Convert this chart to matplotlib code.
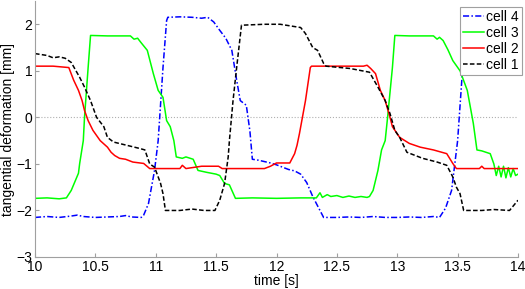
import numpy as np
import matplotlib
matplotlib.use("Agg")
import matplotlib.pyplot as plt

plt.rcParams['font.family'] = ['Liberation Sans', 'DejaVu Sans']

# cell 4 (blue, dash-dot)
t4 = [10.0, 10.1, 10.2, 10.3, 10.35, 10.4, 10.5, 10.6, 10.7, 10.75, 10.8, 10.88, 10.9,
      10.94, 10.99, 11.02, 11.06, 11.09, 11.1, 11.2, 11.3, 11.38, 11.43, 11.48, 11.53,
      11.58, 11.63, 11.67, 11.7, 11.75, 11.78, 11.8, 11.85, 11.9, 11.95, 12.0, 12.05,
      12.1, 12.15, 12.2, 12.25, 12.3, 12.35, 12.39, 12.5, 12.6, 12.7, 12.8, 12.9, 13.0,
      13.1, 13.2, 13.3, 13.35, 13.4, 13.45, 13.5, 13.54, 13.58, 13.6, 13.7, 13.8, 13.9,
      13.96, 13.98, 14.0]
v4 = [-2.15, -2.13, -2.15, -2.12, -2.1, -2.13, -2.15, -2.14, -2.13, -2.11, -2.14, -2.15, -2.1,
      -1.85, -1.14, -0.5, 1.07, 2.08, 2.15, 2.16, 2.15, 2.13, 2.15, 2.05, 1.87,
      1.7, 1.44, 0.8, 0.36, 0.26, -0.3, -0.9, -0.92, -0.95, -0.98, -1.02, -1.07,
      -1.12, -1.15, -1.22, -1.4, -1.7, -1.95, -2.15, -2.15, -2.14, -2.15, -2.13, -2.15, -2.15,
      -2.14, -2.15, -2.13, -2.15, -1.95, -1.57, -0.5, 1.0, 1.9, 2.1, 2.15, 2.15, 2.15,
      2.1, 2.0, 1.85]

# cell 3 (green, solid)
t3 = [10.0, 10.1, 10.2, 10.26, 10.3, 10.36, 10.37, 10.4, 10.41, 10.44, 10.46, 10.6, 10.79,
      10.82, 10.85, 10.88, 10.93, 10.98, 11.02, 11.06, 11.09, 11.12, 11.15, 11.17, 11.22,
      11.25, 11.31, 11.35, 11.42, 11.5, 11.53, 11.57, 11.61, 11.66, 11.8, 12.0, 12.2,
      12.33, 12.36, 12.38, 12.42, 12.45, 12.5, 12.55, 12.6, 12.65, 12.7, 12.75, 12.77,
      12.8, 12.84, 12.87, 12.9, 12.92, 12.96, 12.98, 13.1, 13.3, 13.33, 13.35, 13.38,
      13.42, 13.46, 13.52, 13.58, 13.63, 13.66, 13.7, 13.77, 13.8, 13.82, 13.84, 13.86,
      13.88, 13.9, 13.92, 13.94, 13.96, 13.98, 14.0]
v3 = [-1.74, -1.73, -1.75, -1.73, -1.57, -1.2, -0.99, -0.5, 0.0, 1.07, 1.76, 1.75, 1.75,
      1.68, 1.7, 1.6, 1.44, 0.94, 0.58, 0.43, -0.07, -0.2, -0.5, -0.85, -0.88,
      -0.85, -0.9, -1.14, -1.18, -1.22, -1.25, -1.42, -1.45, -1.74, -1.73, -1.74, -1.73,
      -1.73, -1.62, -1.72, -1.66, -1.7, -1.68, -1.72, -1.69, -1.72, -1.7, -1.72, -1.7,
      -1.57, -1.14, -0.7, -0.5, 0.0, 1.07, 1.76, 1.75, 1.75, 1.68, 1.72, 1.65,
      1.45, 1.22, 1.0, 0.58, -0.13, -0.7, -0.72, -0.78, -1.0, -1.25, -1.05, -1.28,
      -1.05, -1.3, -1.08, -1.28, -1.1, -1.25, -1.22]

# cell 2 (red, solid)
t2 = [10.0, 10.15, 10.28, 10.32, 10.36, 10.39, 10.41, 10.44, 10.48, 10.54, 10.6, 10.63,
      10.66, 10.7, 10.75, 10.81, 10.9, 10.95, 11.1, 11.2, 11.22, 11.25, 11.38, 11.52, 11.55,
      11.7, 11.9, 11.95, 12.0, 12.11, 12.15, 12.17, 12.19, 12.24, 12.28, 12.29, 12.5,
      12.72, 12.75, 12.78, 12.82, 12.86, 12.9, 12.94, 12.96, 13.02, 13.1, 13.19, 13.3,
      13.41, 13.46, 13.49, 13.6, 13.68, 13.7, 13.72, 13.85, 14.0]
v2 = [1.1, 1.1, 1.07, 0.8, 0.58, 0.36, 0.15, -0.07, -0.28, -0.5, -0.64, -0.75,
      -0.82, -0.88, -0.9, -0.96, -0.99, -1.1, -1.1, -1.1, -1.03, -1.1, -1.05, -1.05, -1.1,
      -1.1, -1.1, -1.05, -0.98, -0.98, -0.78, -0.6, -0.35, 0.36, 1.07, 1.1, 1.1,
      1.1, 1.12, 1.05, 0.94, 0.58, 0.36, 0.0, -0.2, -0.43, -0.56, -0.64, -0.7,
      -0.78, -0.99, -1.1, -1.1, -1.1, -1.05, -1.1, -1.1, -1.1]

# cell 1 (black, dashed)
t1 = [10.0, 10.05, 10.1, 10.15, 10.2, 10.25, 10.3, 10.37, 10.41, 10.46, 10.51, 10.57, 10.6,
      10.65, 10.76, 10.87, 10.91, 10.95, 10.99, 11.04, 11.06, 11.08, 11.2, 11.3, 11.4, 11.49,
      11.53, 11.57, 11.6, 11.61, 11.64, 11.67, 11.71, 11.9, 12.03, 12.2, 12.24, 12.3, 12.34,
      12.39, 12.41, 12.61, 12.77, 12.84, 12.9, 12.94, 12.98, 13.02, 13.08, 13.21, 13.33, 13.41,
      13.46, 13.49, 13.52, 13.55, 13.7, 13.8, 13.93, 14.0]
v1 = [1.37, 1.35, 1.33, 1.28, 1.3, 1.27, 1.18, 0.86, 0.65, 0.36, 0.0, -0.2, -0.43,
      -0.53, -0.6, -0.67, -0.7, -1.0, -1.07, -1.42, -1.64, -2.0, -2.0, -1.97, -2.0, -2.0,
      -1.78, -1.42, -0.85, -0.5, 0.36, 1.07, 1.98, 2.0, 2.0, 1.93, 1.8, 1.5, 1.44,
      1.16, 1.1, 1.05, 0.97, 0.65, 0.36, 0.08, -0.28, -0.43, -0.75, -0.88, -0.96, -1.03,
      -1.28, -1.5, -1.64, -2.0, -2.0, -1.98, -2.0, -1.78]

fig = plt.figure(figsize=(5.25, 2.89), dpi=100)
ax = fig.add_axes([35/525, 32/289, 483/525, 256/289])

ax.axhline(0, color='#b0b0b0', ls=':', lw=0.8)
ax.plot(t4, v4, color='#0000ff', ls=(0, (4, 1.5, 1, 1.5)), lw=1.1, label='cell 4')
ax.plot(t3, v3, color='#00ff00', ls='-', lw=1.1, label='cell 3')
ax.plot(t2, v2, color='#ff0000', ls='-', lw=1.1, label='cell 2')
ax.plot(t1, v1, color='black', ls=(0, (3, 1.5)), lw=1.1, label='cell 1')

ax.set_xlim(10, 14)
ax.set_ylim(-3, 2.5)
ax.set_xticks([10, 10.5, 11, 11.5, 12, 12.5, 13, 13.5, 14])
ax.set_xticklabels(['10', '10.5', '11', '11.5', '12', '12.5', '13', '13.5', '14'])
ax.set_yticks([-3, -2, -1, 0, 1, 2])
for s in ['top', 'right']:
    ax.spines[s].set_visible(False)
for s in ['left', 'bottom']:
    ax.spines[s].set_color('#a0a0a0')
ax.tick_params(direction='in', color='#a0a0a0', labelsize=10, length=3, pad=2)
ax.set_xlabel('time [s]', fontsize=10, labelpad=0)
ax.set_ylabel('tangential deformation [mm]', fontsize=10, labelpad=1)

leg = ax.legend(loc='upper right', bbox_to_anchor=(522/525, 1 - 7/289),
                bbox_transform=fig.transFigure, fontsize=10, handlelength=1.5,
                handletextpad=0.2, borderpad=0.2, labelspacing=0.15,
                borderaxespad=0, fancybox=False, framealpha=1)
leg.get_frame().set_edgecolor('#a0a0a0')
leg.get_frame().set_linewidth(0.8)

fig.savefig('out.png', dpi=100)
